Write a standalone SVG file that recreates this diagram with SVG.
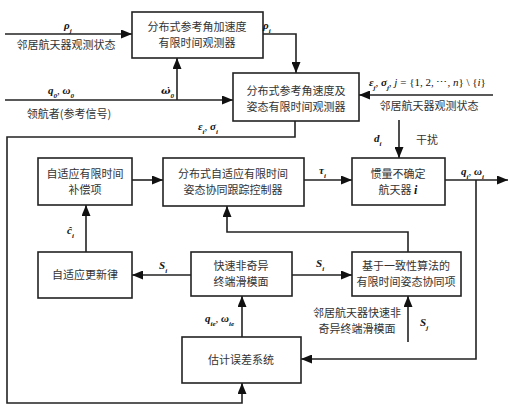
<svg xmlns="http://www.w3.org/2000/svg" width="512" height="420" viewBox="0 0 512 420">
<defs>
<marker id="ah" markerUnits="userSpaceOnUse" markerWidth="12" markerHeight="9" refX="11" refY="4.5" orient="auto">
<path d="M0,0 L11,4.5 L0,9 z" fill="#111"/>
</marker>
<style>
rect{fill:#fff;stroke:#222;stroke-width:1.6}
.c path{fill:none;stroke:#222;stroke-width:1.6}
text{font-family:"Noto Sans CJK SC","Noto Sans",sans-serif;font-size:11px;fill:#333}
.t{text-anchor:middle}
.m{font-family:"Liberation Serif",serif;font-style:italic;font-weight:bold;font-size:11px;fill:#111}
.s{font-size:7px;baseline-shift:sub}
.n{font-weight:normal}
.r{font-style:normal;font-weight:normal}
</style>
</defs>
<rect x="0" y="0" width="512" height="420" style="fill:#fff;stroke:none"/>
<g class="c">
<path d="M5,34 H132" marker-end="url(#ah)"/>
<path d="M263,34 H296 V73" marker-end="url(#ah)"/>
<path d="M177,100 V58" marker-end="url(#ah)"/>
<path d="M5,100 H233" marker-end="url(#ah)"/>
<path d="M493,95 H359" marker-end="url(#ah)"/>
<path d="M295,121 V137 H7 V403 H242 V383" marker-end="url(#ah)"/>
<path d="M399,120 V158" marker-end="url(#ah)"/>
<path d="M132,180 H163" marker-end="url(#ah)"/>
<path d="M304,180 H352" marker-end="url(#ah)"/>
<path d="M445,180 H508" marker-end="url(#ah)"/>
<path d="M476,180 V359 H301" marker-end="url(#ah)"/>
<path d="M86,252 V205" marker-end="url(#ah)"/>
<path d="M191,275 H132" marker-end="url(#ah)"/>
<path d="M292,275 H352" marker-end="url(#ah)"/>
<path d="M408,252 V232 H227 V206" marker-end="url(#ah)"/>
<path d="M408,342 V296" marker-end="url(#ah)"/>
<path d="M242,337 V296" marker-end="url(#ah)"/>
</g>
<g id="n1"><rect x="132" y="12" width="131" height="46"/><text class="t" x="197" y="31">分布式参考角加速度</text><text class="t" x="197" y="47">有限时间观测器</text></g>
<g id="n2"><rect x="233" y="73" width="126" height="48"/><text class="t" x="296" y="95">分布式参考角速度及</text><text class="t" x="296" y="111">姿态有限时间观测器</text></g>
<g id="n3"><rect x="38" y="158" width="94" height="47"/><text class="t" x="85" y="178">自适应有限时间</text><text class="t" x="85" y="194">补偿项</text></g>
<g id="n4"><rect x="163" y="158" width="141" height="48"/><text class="t" x="233" y="178">分布式自适应有限时间</text><text class="t" x="233" y="194">姿态协同跟踪控制器</text></g>
<g id="n5"><rect x="352" y="158" width="93" height="47"/><text class="t" x="398" y="178">惯量不确定</text><text class="t" x="398" y="194">航天器 <tspan class="m" style="font-size:12px">i</tspan></text></g>
<g id="n6"><rect x="38" y="252" width="94" height="46"/><text class="t" x="85" y="279">自适应更新律</text></g>
<g id="n7"><rect x="191" y="252" width="101" height="44"/><text class="t" x="241" y="270">快速非奇异</text><text class="t" x="241" y="286">终端滑模面</text></g>
<g id="n8"><rect x="352" y="252" width="109" height="44"/><text class="t" x="406" y="270">基于一致性算法的</text><text class="t" x="406" y="286">有限时间姿态协同项</text></g>
<g id="n9"><rect x="182" y="337" width="119" height="46"/><text class="t" x="241" y="364">估计误差系统</text></g>
<g id="labels">
<text class="m" x="64" y="29">ρ<tspan class="s">j</tspan></text>
<text class="t" x="66" y="49">邻居航天器观测状态</text>
<text class="m" x="263" y="29">ρ<tspan class="s">i</tspan></text>
<text class="m" x="161" y="94"><tspan style="font-family:'DejaVu Serif',serif;font-size:10px">ω̇</tspan><tspan class="s">0</tspan></text>
<text class="m" x="48" y="94">q<tspan class="s">0</tspan><tspan class="n">, </tspan>ω<tspan class="s">0</tspan></text>
<text class="t" x="69" y="118">领航者(参考信号)</text>
<text class="m" x="198" y="130">ε<tspan class="s">i</tspan><tspan class="n">, </tspan>σ<tspan class="s">i</tspan></text>
<text class="m" x="369" y="86">ε<tspan class="s">j</tspan><tspan class="n">, </tspan>σ<tspan class="s">j</tspan><tspan class="n">, j</tspan><tspan class="r"> = {1, 2, ⋯, </tspan><tspan class="n">n</tspan><tspan class="r">} \ {</tspan><tspan class="n">i</tspan><tspan class="r">}</tspan></text>
<text class="t" x="429" y="110">邻居航天器观测状态</text>
<text class="m" x="374" y="142">d<tspan class="s">i</tspan></text>
<text x="416" y="144">干扰</text>
<text class="m" x="319" y="174">τ<tspan class="s">i</tspan></text>
<text class="m" x="461" y="175">q<tspan class="s">i</tspan><tspan class="n">, </tspan>ω<tspan class="s">i</tspan></text>
<text class="m" x="67" y="234">ĉ<tspan class="s">i</tspan></text>
<text class="m" x="159" y="269">S<tspan class="s">i</tspan></text>
<text class="m" x="316" y="267">S<tspan class="s">i</tspan></text>
<text class="m" x="420" y="326">S<tspan class="s">j</tspan></text>
<text class="t" x="357" y="317">邻居航天器快速非</text>
<text class="t" x="357" y="333">奇异终端滑模面</text>
<text class="m" x="205" y="322">q<tspan class="s">ie</tspan><tspan class="n">, </tspan>ω<tspan class="s">ie</tspan></text>
</g>
</svg>
